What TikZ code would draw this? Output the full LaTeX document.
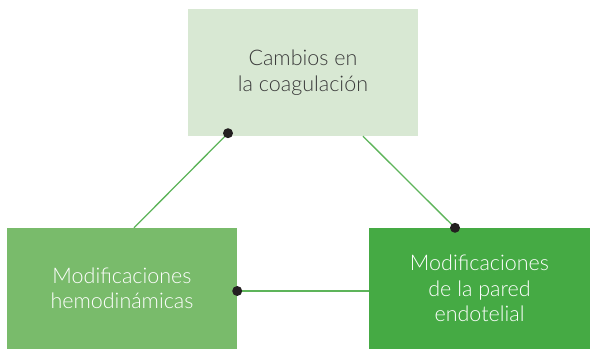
\documentclass[tikz,border=0pt]{standalone}
\usepackage{fontspec}
\setmainfont{Lato Light}
\usepackage{tikz}
\usetikzlibrary{positioning}
\definecolor{coagfill}{HTML}{D8E8D3}
\definecolor{hemofill}{HTML}{79BB6B}
\definecolor{paredfill}{HTML}{45AA44}
\definecolor{linkgreen}{HTML}{5DB45A}
\definecolor{dotblack}{HTML}{231F20}
\definecolor{textgray}{HTML}{3A3A3A}

\begin{document}
\begin{tikzpicture}[
  x=1pt, y=1pt,
  box/.style={align=center, inner sep=0pt, font=\fontsize{21.5}{25.5}\selectfont},
  link/.style={draw=linkgreen, line width=1.3pt},
  dot/.style={fill=dotblack}
]
\useasboundingbox (0,0) rectangle (590,349);

\node[box, fill=coagfill, text=textgray, minimum width=230pt, minimum height=127pt]
  (coag) at (303,276.5) {Cambios en\\la coagulación};
\node[box, fill=hemofill, text=white, minimum width=230pt, minimum height=121pt]
  (hemo) at (122,60.5) {Modificaciones\\hemodinámicas};
\node[box, fill=paredfill, text=white, minimum width=221pt, minimum height=121pt]
  (pared) at (479.5,60.5) {Modificaciones\\de la pared\\endotelial};

\coordinate (c1) at ([xshift=-75pt,yshift=3pt]coag.south);
\coordinate (c2) at ([xshift=60pt]coag.south);
\coordinate (h1) at ([xshift=12pt]hemo.north);
\coordinate (h2) at ([yshift=-2.5pt]hemo.east);
\coordinate (p1) at ([xshift=-24.5pt]pared.north);
\coordinate (p2) at ([yshift=-2.5pt]pared.west);

\draw[link] (c1) -- (h1);
\draw[link] (c2) -- (p1);
\draw[link] (h2) -- (p2);
\fill[dot] (c1) circle (5pt);
\fill[dot] (p1) circle (5pt);
\fill[dot] (h2) circle (5pt);
\end{tikzpicture}
\end{document}
